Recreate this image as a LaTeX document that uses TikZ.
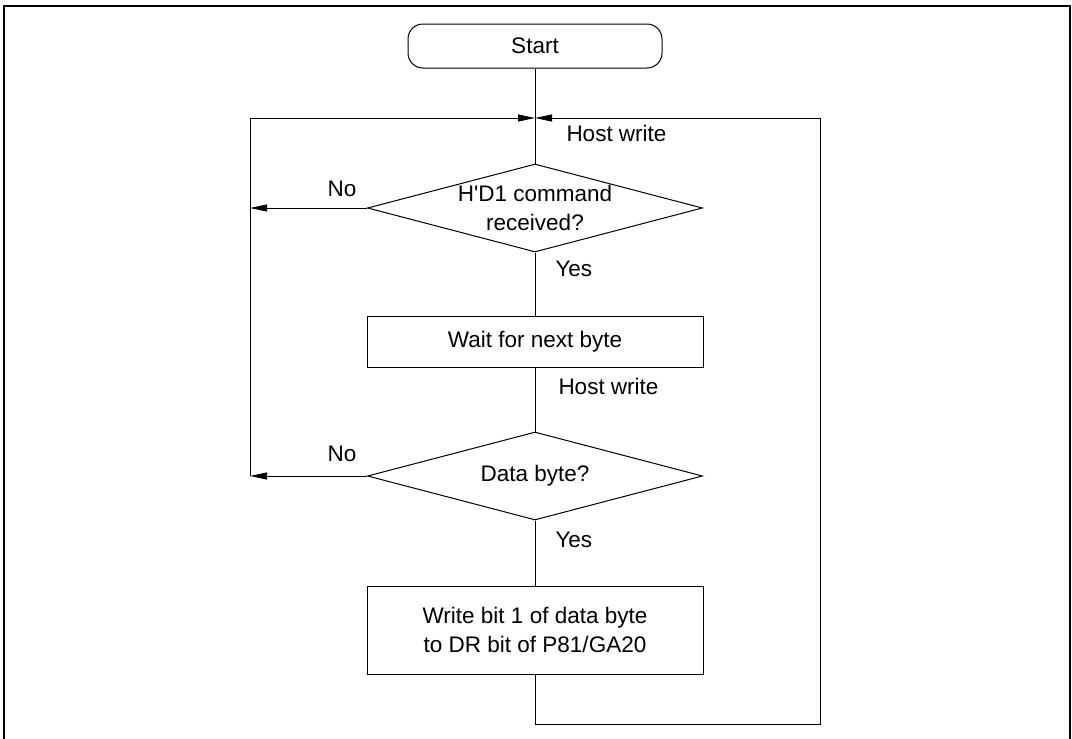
\documentclass[tikz,border=0pt]{standalone}
\usepackage{fontspec}
\setmainfont{Liberation Sans}
\usetikzlibrary{arrows.meta,positioning,shapes.geometric}

\begin{document}
\begin{tikzpicture}[
  x=1pt, y=-1pt,
  font=\fontsize{22.5}{29}\selectfont,
  line width=1pt,
  term/.style={draw, rounded corners=15pt, minimum width=254pt, minimum height=44pt},
  proc/.style={draw, align=center, minimum width=336pt, inner sep=0pt},
  decide/.style={draw, diamond, align=center, aspect=3.85, inner sep=0pt, minimum width=335pt, minimum height=88pt},
  lbl/.style={inner sep=0pt},
  arrow/.style={-{Triangle[length=17pt, width=7pt]}}
]
\useasboundingbox (0,0) rectangle (1072,739);
\draw[line width=2pt] (4,739) |- (1070,6) -- (1070,739);

\node[term] (start) at (535,46) {Start};
\node[decide, below=95pt of start] (hd1) {H\textquotesingle D1 command\\received?};
\node[proc, below=63pt of hd1, minimum height=51pt] (wait) {Wait for next byte};
\node[decide, below=64pt of wait] (data) {Data byte?};
\node[proc, below=65pt of data, minimum height=88pt] (write) {Write bit 1 of data byte\\to DR bit of P81/GA20};

\coordinate (join) at (535,118);
\coordinate (lft) at (250,118);
\coordinate (rgt) at (820,724);

\node[lbl, anchor=west] (hw1) at (566,133) {Host write};
\node[lbl] (no1) at (342,189) {No};
\node[lbl, anchor=west] (yes1) at (555,269) {Yes};
\node[lbl, anchor=west] (hw2) at (558,386) {Host write};
\node[lbl] (no2) at (342,454) {No};
\node[lbl, anchor=west] (yes2) at (555,540) {Yes};

\draw (start) -- (hd1);
\draw (hd1) -- (wait);
\draw (wait) -- (data);
\draw (data) -- (write);
\draw[arrow] (hd1.west) -- (hd1.west -| lft);
\draw[arrow] (data.west) -- (data.west -| lft);
\draw[arrow] (data.west -| lft) |- (join);
\draw[arrow] (write.south) |- (rgt) |- (join);
\end{tikzpicture}
\end{document}
